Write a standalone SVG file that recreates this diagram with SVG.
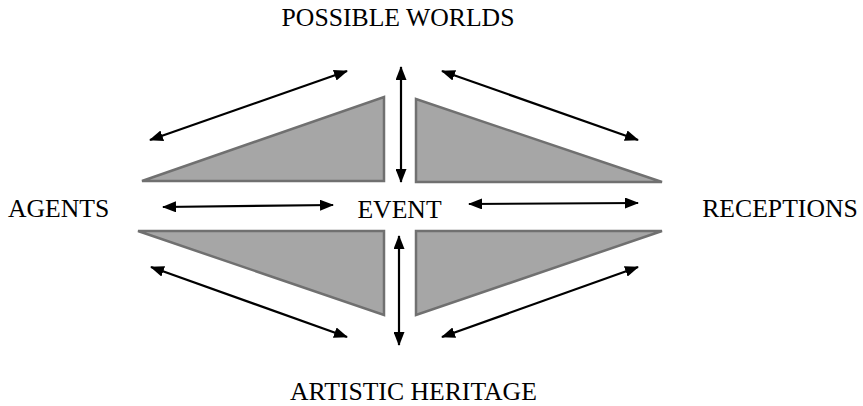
<svg xmlns="http://www.w3.org/2000/svg" width="863" height="406" viewBox="0 0 863 406">
<defs>
<marker id="ah" viewBox="0 0 14 11" refX="13" refY="5.5" markerWidth="14" markerHeight="11" markerUnits="userSpaceOnUse" orient="auto-start-reverse">
<path d="M0,0 L14,5.5 L0,11 Z" fill="#000"/>
</marker>
<style>
.tri{fill:#a6a6a6;stroke:#707070;stroke-width:2.5;stroke-linejoin:miter}
.con{stroke:#000;stroke-width:2.2;fill:none;marker-start:url(#ah);marker-end:url(#ah)}
.lbl{font-family:"Liberation Serif","Times New Roman",serif;font-size:25.7px;fill:#000}
</style>
</defs>
<rect width="863" height="406" fill="#fff"/>
<g id="tri-top-left"><polygon class="tri" points="142,181 384,97 384,181"/></g>
<g id="tri-top-right"><polygon class="tri" points="416,99 416,182 662,182"/></g>
<g id="tri-bottom-left"><polygon class="tri" points="138,231 384,231 384,315"/></g>
<g id="tri-bottom-right"><polygon class="tri" points="416,231 662,231 416,315"/></g>
<g id="connectors">
<line class="con" x1="150" y1="140" x2="347" y2="71"/>
<line class="con" x1="401" y1="67" x2="401" y2="182"/>
<line class="con" x1="442" y1="71" x2="638" y2="140"/>
<line class="con" x1="163" y1="207" x2="333" y2="205"/>
<line class="con" x1="469" y1="204" x2="638" y2="203"/>
<line class="con" x1="151" y1="267" x2="347" y2="337"/>
<line class="con" x1="399" y1="236" x2="399" y2="345"/>
<line class="con" x1="442" y1="337" x2="638" y2="267"/>
</g>
<g id="possible-worlds"><text class="lbl" x="398" y="26" text-anchor="middle">POSSIBLE WORLDS</text></g>
<g id="agents"><text class="lbl" x="8" y="217">AGENTS</text></g>
<g id="event"><text class="lbl" x="399.5" y="218" text-anchor="middle">EVENT</text></g>
<g id="receptions"><text class="lbl" x="780" y="217" text-anchor="middle">RECEPTIONS</text></g>
<g id="artistic-heritage"><text class="lbl" x="290" y="400">ARTISTIC HERITAGE</text></g>
</svg>
